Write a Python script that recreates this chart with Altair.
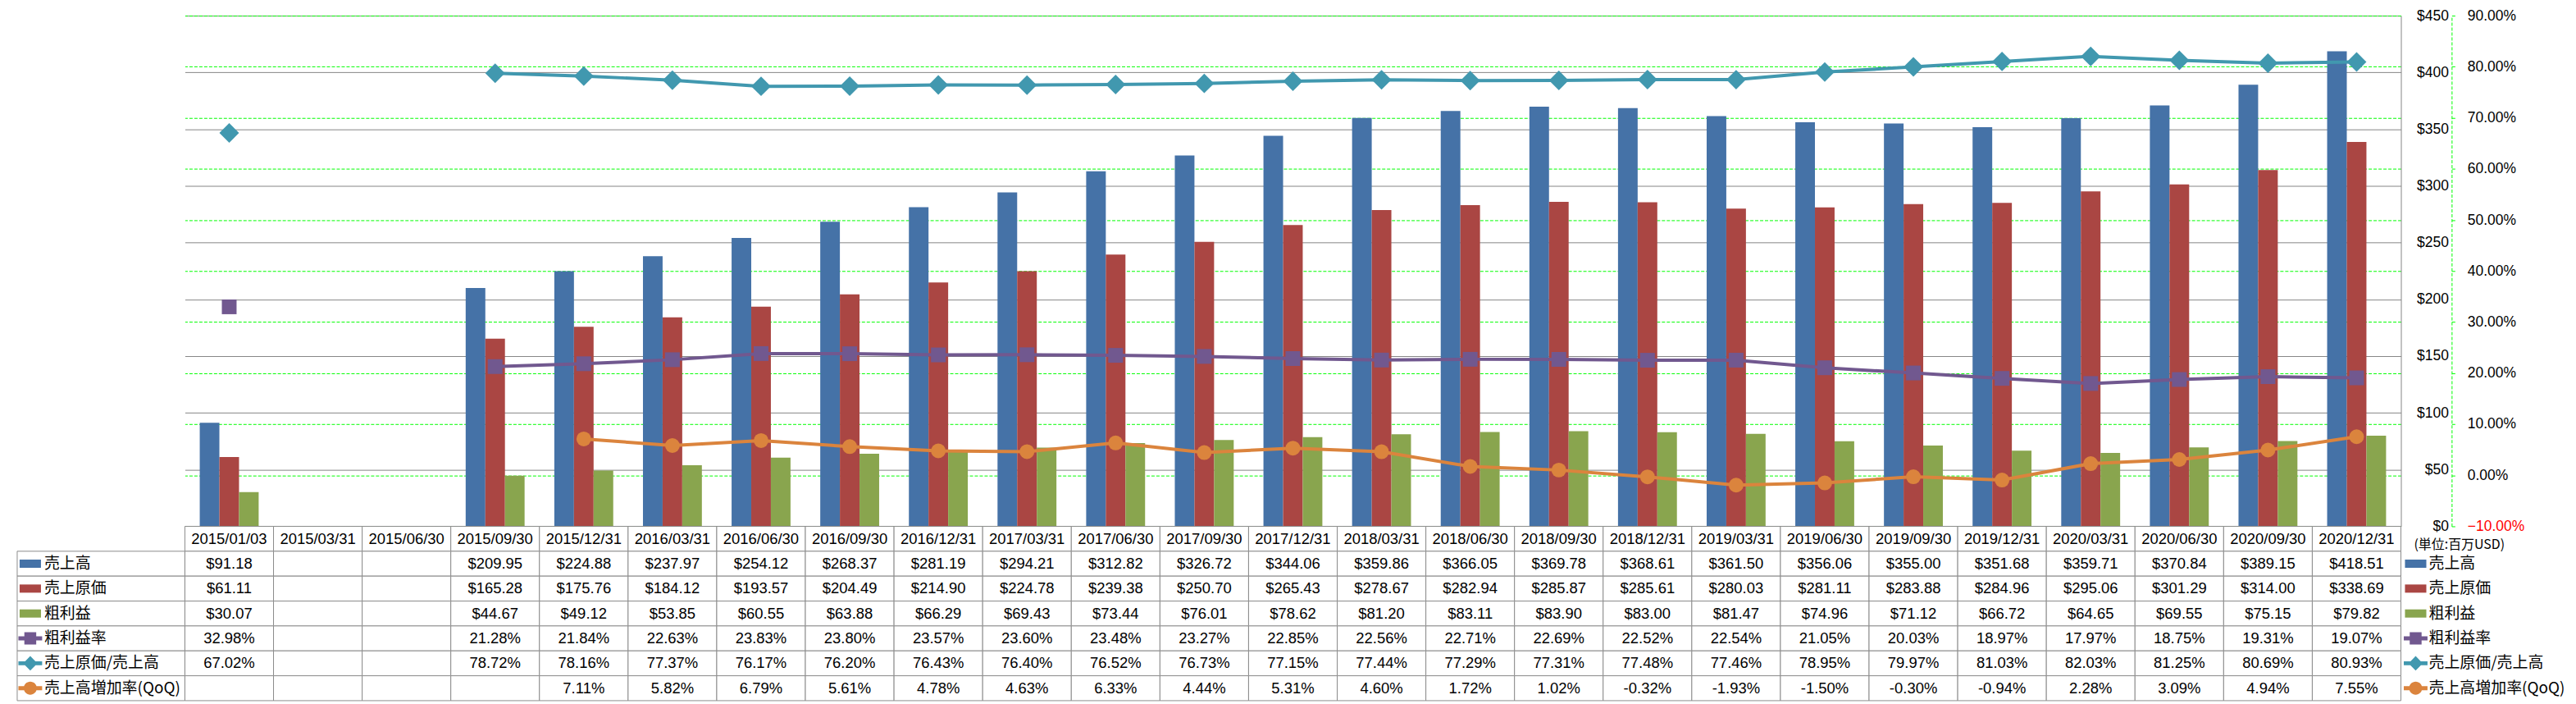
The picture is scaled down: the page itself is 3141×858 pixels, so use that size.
import altair as alt
import pandas as pd

dates = ["2015/01/03", "2015/03/31", "2015/06/30", "2015/09/30", "2015/12/31",
         "2016/03/31", "2016/06/30", "2016/09/30", "2016/12/31",
         "2017/03/31", "2017/06/30", "2017/09/30", "2017/12/31",
         "2018/03/31", "2018/06/30", "2018/09/30", "2018/12/31",
         "2019/03/31", "2019/06/30", "2019/09/30", "2019/12/31",
         "2020/03/31", "2020/06/30", "2020/09/30", "2020/12/31"]

revenue = [91.18, None, None, 209.95, 224.88, 237.97, 254.12, 268.37, 281.19, 294.21,
           312.82, 326.72, 344.06, 359.86, 366.05, 369.78, 368.61, 361.50, 356.06,
           355.00, 351.68, 359.71, 370.84, 389.15, 418.51]
cogs = [61.11, None, None, 165.28, 175.76, 184.12, 193.57, 204.49, 214.90, 224.78,
        239.38, 250.70, 265.43, 278.67, 282.94, 285.87, 285.61, 280.03, 281.11,
        283.88, 284.96, 295.06, 301.29, 314.00, 338.69]
gross = [30.07, None, None, 44.67, 49.12, 53.85, 60.55, 63.88, 66.29, 69.43,
         73.44, 76.01, 78.62, 81.20, 83.11, 83.90, 83.00, 81.47, 74.96,
         71.12, 66.72, 64.65, 69.55, 75.15, 79.82]
margin = [32.98, None, None, 21.28, 21.84, 22.63, 23.83, 23.80, 23.57, 23.60,
          23.48, 23.27, 22.85, 22.56, 22.71, 22.69, 22.52, 22.54, 21.05,
          20.03, 18.97, 17.97, 18.75, 19.31, 19.07]
cost_ratio = [67.02, None, None, 78.72, 78.16, 77.37, 76.17, 76.20, 76.43, 76.40,
              76.52, 76.73, 77.15, 77.44, 77.29, 77.31, 77.48, 77.46, 78.95,
              79.97, 81.03, 82.03, 81.25, 80.69, 80.93]
qoq = [None, None, None, None, 7.11, 5.82, 6.79, 5.61, 4.78, 4.63,
       6.33, 4.44, 5.31, 4.60, 1.72, 1.02, -0.32, -1.93, -1.50,
       -0.30, -0.94, 2.28, 3.09, 4.94, 7.55]

bar_series = ["売上高", "売上原価", "粗利益"]
line_series = ["粗利益率", "売上原価/売上高", "売上高増加率(QoQ)"]
all_series = bar_series + line_series
all_colors = ["#4572A7", "#AA4643", "#89A54E", "#71588F", "#4198AF", "#DB843D"]
dollar_ticks = [0, 50, 100, 150, 200, 250, 300, 350, 400, 450]
pct_ticks = [-10, 0, 10, 20, 30, 40, 50, 60, 70, 80, 90]

PLOT_W = 2709
PLOT_H = 624
ROW_H = 30.43
TABLE_H = ROW_H * 7
SIDE_W = 205

GRID_GRAY = "#868686"
CELL_GRAY = "#8C8C8C"
GREEN = "#00FF00"
NUM_FONT = "Liberation Sans"
JP_FONT = "Noto Sans CJK JP"

color_scale = alt.Scale(domain=all_series, range=all_colors)


def xenc():
    return alt.X("date:N", sort=dates,
                 scale=alt.Scale(domain=dates, paddingInner=0, paddingOuter=0),
                 axis=None)


# ---------- bars ----------
bar_rows = []
for s, vals in zip(bar_series, [revenue, cogs, gross]):
    for d, v in zip(dates, vals):
        if v is not None:
            bar_rows.append({"date": d, "series": s, "value": v})
bars_df = pd.DataFrame(bar_rows)

dollar_axis = alt.Axis(orient="right", values=dollar_ticks, format="$d",
                       grid=True, gridColor=GRID_GRAY, gridWidth=1,
                       domain=True, domainColor=GRID_GRAY, domainWidth=1,
                       ticks=False, tickSize=0, labelPadding=58, labelAlign="right",
                       labelFont=NUM_FONT, labelFontSize=17.5, labelColor="#000000",
                       title=None)

bars = alt.Chart(bars_df).mark_bar().encode(
    x=xenc(),
    xOffset=alt.XOffset("series:N", sort=bar_series,
                        scale=alt.Scale(domain=bar_series, paddingInner=0, paddingOuter=0.757)),
    y=alt.Y("value:Q", scale=alt.Scale(domain=[0, 450], nice=False), axis=dollar_axis),
    color=alt.Color("series:N", scale=color_scale, legend=None),
)

# ---------- lines ----------
pct_axis = alt.Axis(orient="right", offset=62, values=pct_ticks,
                    labelExpr="format(datum.value, '.2f') + '%'",
                    grid=True, gridColor=GREEN, gridDash=[4, 2], gridWidth=1,
                    domain=True, domainColor=GREEN, domainDash=[4, 2], domainWidth=1,
                    ticks=True, tickColor=GREEN, tickSize=4, tickWidth=1,
                    labelPadding=15, labelAlign="left",
                    labelFont=NUM_FONT, labelFontSize=17.5,
                    labelColor={"condition": {"test": "datum.value < 0", "value": "#FF0000"},
                                "value": "#000000"},
                    title=None)


def line_df(name, vals):
    rows = []
    seg = 0
    prev_none = True
    for d, v in zip(dates, vals):
        if v is None:
            prev_none = True
            continue
        if prev_none:
            seg += 1
        prev_none = False
        rows.append({"date": d, "series": name, "value": v, "seg": seg})
    return pd.DataFrame(rows)


line_specs = [
    (line_series[0], margin, "square", 324, all_colors[3]),
    (line_series[1], cost_ratio, "diamond", 576, all_colors[4]),
    (line_series[2], qoq, "circle", 324, all_colors[5]),
]

line_layers = []
for name, vals, shape, size, col in line_specs:
    line_layers.append(
        alt.Chart(line_df(name, vals)).mark_line(
            color=col, strokeWidth=4,
            point=alt.OverlayMarkDef(shape=shape, size=size, filled=True, color=col,
                                     opacity=1, strokeWidth=0),
        ).encode(
            x=xenc(),
            y=alt.Y("value:Q", scale=alt.Scale(domain=[-10, 90], nice=False, zero=False),
                    axis=pct_axis),
            detail="seg:N",
        )
    )

plot = alt.layer(bars, alt.layer(*line_layers)).resolve_scale(y="independent").properties(
    width=PLOT_W, height=PLOT_H)


def spacer():
    return alt.Chart(pd.DataFrame({"a": [0]})).mark_point(opacity=0).encode(
        x=alt.value(0), y=alt.value(0)).properties(width=SIDE_W, height=PLOT_H)


# ---------- data table ----------
rows_order = ["hdr"] + all_series


def fmt_dollar(v):
    return "" if v is None else f"${v:.2f}"


def fmt_pct(v):
    return "" if v is None else f"{v:.2f}%"


tbl_rows = [{"date": d, "row": "hdr", "text": d} for d in dates]
for s, vals, f in [(bar_series[0], revenue, fmt_dollar), (bar_series[1], cogs, fmt_dollar),
                   (bar_series[2], gross, fmt_dollar), (line_series[0], margin, fmt_pct),
                   (line_series[1], cost_ratio, fmt_pct), (line_series[2], qoq, fmt_pct)]:
    for d, v in zip(dates, vals):
        tbl_rows.append({"date": d, "row": s, "text": f(v)})
tbl_df = pd.DataFrame(tbl_rows)


def yrow():
    return alt.Y("row:N", sort=rows_order,
                 scale=alt.Scale(domain=rows_order, paddingInner=0, paddingOuter=0),
                 axis=None)


cells = alt.Chart(tbl_df).mark_rect(fill="white", stroke=CELL_GRAY, strokeWidth=1).encode(
    x=xenc(), y=yrow())
cell_text = alt.Chart(tbl_df).mark_text(font=NUM_FONT, fontSize=18.5, color="#000000").encode(
    x=xenc(), y=yrow(), text="text:N")
table = alt.layer(cells, cell_text).properties(width=PLOT_W, height=TABLE_H)

# ---------- legend symbols ----------
sym_bar = "M-0.9,-0.345H0.9V0.345H-0.9Z"
sym_square = "M-1,-0.17H1V0.17H-1Z M-0.5,-0.52H0.5V0.52H-0.5Z"
sym_diamond = "M-1,-0.17H1V0.17H-1Z M0,-0.62L0.6,0L0,0.62L-0.6,0Z"
sym_circle = ("M-1,-0.17H1V0.17H-1Z M-0.55,0A0.55,0.55 0 1,1 0.55,0"
              "A0.55,0.55 0 1,1 -0.55,0Z")
sym_paths = [sym_bar, sym_bar, sym_bar, sym_square, sym_diamond, sym_circle]
shape_scale = alt.Scale(domain=all_series, range=sym_paths)

leg_df = pd.DataFrame({"row": all_series, "series": all_series})


def legend_layers(sym_x, text_x):
    sym = alt.Chart(leg_df).mark_point(filled=True, size=841, opacity=1, strokeWidth=0).encode(
        x=alt.value(sym_x), y=yrow(),
        shape=alt.Shape("series:N", scale=shape_scale, legend=None),
        color=alt.Color("series:N", scale=color_scale, legend=None))
    txt = alt.Chart(leg_df).mark_text(align="left", font=JP_FONT, fontSize=19,
                                      color="#000000").encode(
        x=alt.value(text_x), y=yrow(), text="series:N")
    return sym, txt


leg_cells = alt.Chart(leg_df).mark_rect(fill="white", stroke=CELL_GRAY, strokeWidth=1).encode(
    x=alt.value(0), x2=alt.value(SIDE_W), y=yrow())
ls, lt = legend_layers(16, 33)
left_legend = alt.layer(leg_cells, ls, lt).properties(width=SIDE_W, height=TABLE_H)

unit_df = pd.DataFrame({"row": ["hdr"], "label": ["(単位:百万USD)"]})
unit_text = alt.Chart(unit_df).mark_text(align="left", font=JP_FONT, fontSize=16, dy=7,
                                         color="#000000").encode(
    x=alt.value(16), y=yrow(), text="label:N")
rs, rt = legend_layers(18, 34)
right_legend = alt.layer(unit_text, rs, rt).properties(width=SIDE_W, height=TABLE_H)

chart = alt.concat(spacer(), plot, spacer(), left_legend, table, right_legend,
                   columns=3, spacing=0, bounds="flush").properties(
    padding={"left": 9, "top": 0, "right": 0, "bottom": 0}
).configure_view(stroke="transparent")

chart.save("out.html", embed_options={"renderer": "svg", "actions": False})
